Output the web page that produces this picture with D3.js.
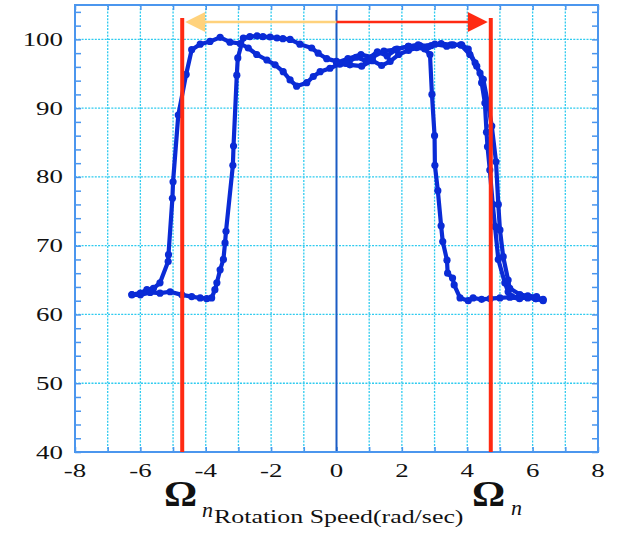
<!DOCTYPE html>
<html><head><meta charset="utf-8">
<script src="https://cdn.jsdelivr.net/npm/d3@7"></script>
<style>body{margin:0;background:#fff}svg{display:block}</style>
</head><body>
<svg id="c" width="617" height="534"></svg>
<script>
// ---- data ----
const xTicks = [-8,-6,-4,-2,0,2,4,6,8];
const yTicks = [40,50,60,70,80,90,100];
const omegaN = [-4.72, 4.72];
// sweep 1: 0 -> +6.3
const sweep1 = [[0,96.6],[0.35,97.2],[0.75,97.8],[1.1,97.4],[1.45,98.3],[1.8,98.5],[2.2,99.0],[2.55,99.1],[2.9,99.1],[3.2,99.4],[3.5,99.2],[3.8,99.2],[4.08,97.8],[4.24,96.6],[4.39,95.1],[4.44,93.7],[4.54,90.75],[4.59,86.5],[4.62,84.4],[4.69,81],[4.78,76],[4.85,72.8],[4.95,68],[5.15,64.6],[5.25,63.3],[5.36,62.6],[5.6,62.5],[5.85,62.4],[6.1,62.3],[6.32,62.2]];
// sweep 2: +6.3 -> -6.3
const sweep2 = [[6.32,62.0],[6.1,62.3],[5.85,62.5],[5.6,62.3],[5.3,62.5],[5.0,62.4],[4.7,62.3],[4.44,62.2],[4.18,62.4],[4.03,62.0],[3.78,62.4],[3.6,64.3],[3.55,65.3],[3.4,66],[3.38,67.9],[3.25,70.6],[3.2,72.9],[3.1,78],[3.01,81.7],[3.0,86],[2.92,92],[2.86,97.8],[2.7,98.6],[2.45,98.8],[2.2,98.4],[1.9,97.8],[1.64,96.8],[1.38,96.2],[1.1,96.9],[0.77,96.1],[0.41,96.3],[0.1,96.4],[-0.2,95.8],[-0.5,95.3],[-0.71,94.6],[-0.91,93.7],[-1.22,93.2],[-1.42,94.1],[-1.63,95.3],[-1.88,96.3],[-2.13,97],[-2.44,97.8],[-2.7,98.75],[-2.95,99.4],[-3.26,99.6],[-3.56,100.3],[-3.87,99.7],[-4.17,99.3],[-4.43,98.5],[-4.6,94.9],[-4.84,89],[-5.0,79.3],[-5.02,76.9],[-5.14,68.7],[-5.15,67.7],[-5.4,64.6],[-5.6,63.8],[-5.8,63.6],[-6.0,63.1],[-6.26,62.9]];
// sweep 3: -6.3 -> +6.3
const sweep3 = [[-6.26,62.85],[-6.0,62.85],[-5.7,63.2],[-5.4,63.1],[-5.09,63.3],[-4.73,62.85],[-4.43,62.6],[-4.17,62.4],[-3.97,62.3],[-3.82,62.4],[-3.72,63.6],[-3.66,64.6],[-3.56,66.5],[-3.46,68],[-3.41,70.4],[-3.38,72.1],[-3.17,81.7],[-3.15,84.5],[-3.05,94.8],[-3.02,97.3],[-2.85,100.2],[-2.65,100.4],[-2.43,100.5],[-2.25,100.4],[-2.03,100.35],[-1.82,100.2],[-1.64,100.1],[-1.42,100],[-1.12,99.3],[-0.76,98.75],[-0.56,98],[-0.3,97.2],[0,96.8],[0.3,96.5],[0.6,97.4],[0.9,96.9],[1.25,98.2],[1.55,97.6],[1.85,98.6],[2.2,99.0],[2.5,99.2],[2.8,98.9],[3.01,99.3],[3.37,99.0],[3.57,99.2],[3.83,99.2],[4.03,98.6],[4.29,96.1],[4.49,94.2],[4.64,90.5],[4.75,87.4],[4.88,82.2],[4.95,76],[5.0,72.3],[5.1,68.4],[5.25,65],[5.3,63.8],[5.61,62.9],[5.85,62.7],[6.12,62.6],[6.32,62.1]];
const series = [sweep1, sweep2, sweep3];
const xLabel = "Rotation Speed(rad/sec)";

// ---- chart ----
const svg = d3.select("#c");
const L=75, R=598, T=5, B=452;
const x = d3.scaleLinear().domain([-8,8]).range([L,R]);
const y = d3.scaleLinear().domain([40,105]).range([B,T]);
const axisCol = "#4b96ee", gridCol = "#2fcbef";

// grid
const g = svg.append("g");
g.selectAll("line.vg").data(d3.range(-7,8).filter(d=>d!==0)).join("line")
  .attr("x1",d=>x(d)).attr("x2",d=>x(d)).attr("y1",T).attr("y2",B)
  .attr("stroke",gridCol).attr("stroke-width",1.3).attr("stroke-dasharray","2,1.3");
g.selectAll("line.hg").data(yTicks.slice(1)).join("line")
  .attr("x1",L).attr("x2",R).attr("y1",d=>y(d)).attr("y2",d=>y(d))
  .attr("stroke",gridCol).attr("stroke-width",1.3).attr("stroke-dasharray","2,1.3");

// minor ticks via d3 axes
const yMinor = d3.range(40,105,2);
const xMinor = d3.range(-8,9,1);
const tickStyle = s => { s.select(".domain").remove(); s.selectAll("line").attr("stroke",axisCol).attr("stroke-width",1.5); s.selectAll("text").remove(); };
svg.append("g").attr("transform",`translate(${L},0)`).call(d3.axisLeft(y).tickValues(yMinor).tickSize(-6)).call(tickStyle);
svg.append("g").attr("transform",`translate(${R},0)`).call(d3.axisRight(y).tickValues(yMinor).tickSize(-6)).call(tickStyle);
svg.append("g").attr("transform",`translate(0,${B})`).call(d3.axisBottom(x).tickValues(xMinor).tickSize(-5)).call(tickStyle);
svg.append("g").attr("transform",`translate(0,${T})`).call(d3.axisTop(x).tickValues(xMinor).tickSize(-5)).call(tickStyle);

// zero line
svg.append("line").attr("x1",x(0)).attr("x2",x(0)).attr("y1",10).attr("y2",B)
  .attr("stroke","#1b5cc4").attr("stroke-width",2);

// frame
svg.append("rect").attr("x",L).attr("y",T).attr("width",R-L).attr("height",B-T)
  .attr("fill","none").attr("stroke",axisCol).attr("stroke-width",2);

// tick labels (horizontally stretched serif)
const font = "'Liberation Serif','Times New Roman',serif";
const sx = 1.38;
yTicks.forEach(v=>{
  svg.append("text").attr("transform",`translate(63,${y(v)+6.5}) scale(${sx},1)`)
    .attr("text-anchor","end").attr("font-family",font).attr("font-size",19.5).attr("fill","#111").text(v);
});
xTicks.forEach(v=>{
  svg.append("text").attr("transform",`translate(${x(v)},477) scale(${sx},1)`)
    .attr("text-anchor","middle").attr("font-family",font).attr("font-size",19.5).attr("fill","#111").text(v);
});

// curves
const line = d3.line().x(d=>x(d[0])).y(d=>y(d[1]));
const curveCol = "#0a2bd6";
series.forEach(s=>{
  svg.append("path").datum(s).attr("d",line).attr("fill","none")
    .attr("stroke",curveCol).attr("stroke-width",4.2).attr("stroke-linejoin","round");
  svg.append("g").selectAll("circle").data(s).join("circle")
    .attr("cx",d=>x(d[0])).attr("cy",d=>y(d[1])).attr("r",3.6).attr("fill",curveCol);
});

// red vertical lines
omegaN.forEach(v=>{
  svg.append("line").attr("x1",x(v)).attr("x2",x(v)).attr("y1",18).attr("y2",B)
    .attr("stroke","#ff2a12").attr("stroke-width",4);
});

// arrows
const ay = 22;
svg.append("line").attr("x1",x(0)).attr("x2",x(omegaN[0])+22).attr("y1",ay).attr("y2",ay)
  .attr("stroke","#ffd27c").attr("stroke-width",2.6);
svg.append("path").attr("d",`M${x(omegaN[0])+3},${ay} L${x(omegaN[0])+23},${ay-10} L${x(omegaN[0])+23},${ay+10} Z`).attr("fill","#ffd27c");
svg.append("line").attr("x1",x(0)).attr("x2",x(omegaN[1])-22).attr("y1",ay).attr("y2",ay)
  .attr("stroke","#ff2a12").attr("stroke-width",2.6);
svg.append("path").attr("d",`M${x(omegaN[1])-3},${ay} L${x(omegaN[1])-23},${ay-10} L${x(omegaN[1])-23},${ay+10} Z`).attr("fill","#ff2a12");

// bottom labels
svg.append("text").attr("transform",`translate(214,523) scale(1.4,1)`)
  .attr("font-family",font).attr("font-size",18.5).attr("fill","#111").text(xLabel);
[[164,506,202,516.5],[472,506,511,515]].forEach(p=>{
  svg.append("text").attr("transform",`translate(${p[0]},${p[1]}) scale(1.15,1)`)
    .attr("font-family",font).attr("font-size",36).attr("font-weight","bold").attr("fill","#111").text("Ω");
  svg.append("text").attr("transform",`translate(${p[2]},${p[3]}) scale(1.1,1)`)
    .attr("font-family",font).attr("font-size",20).attr("font-style","italic").attr("fill","#111").text("n");
});
</script>
</body></html>
